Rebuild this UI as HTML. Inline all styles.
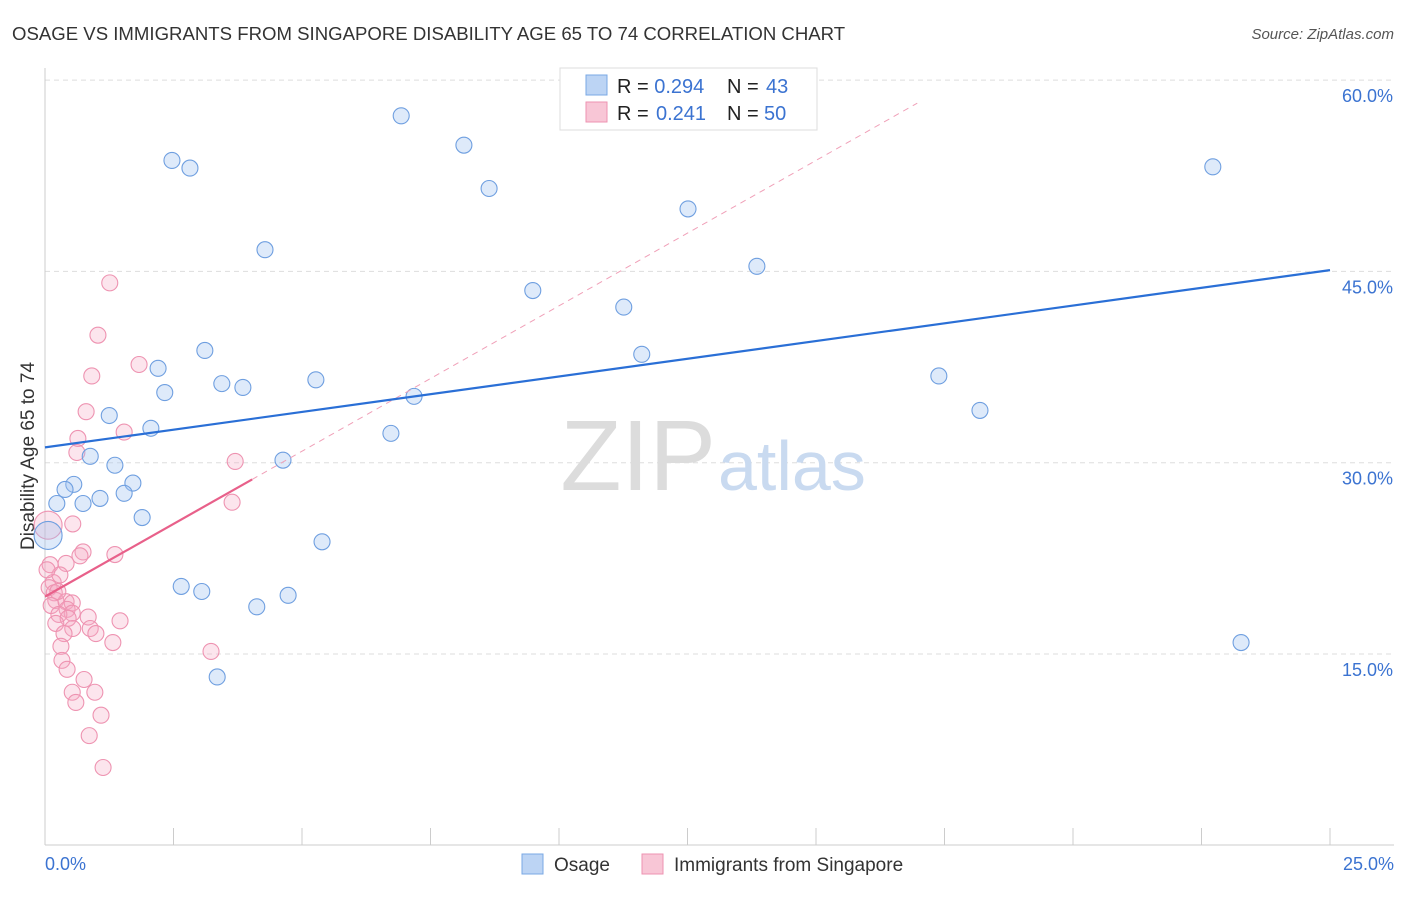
<!DOCTYPE html>
<html><head><meta charset="utf-8">
<style>
body{margin:0;background:#fff;font-family:"Liberation Sans",sans-serif;}
svg text{font-family:"Liberation Sans",sans-serif;}
</style></head>
<body>
<svg id="chart" width="1406" height="892" viewBox="0 0 1406 892">
<text x="12" y="40" font-size="18.6" fill="#333">OSAGE VS IMMIGRANTS FROM SINGAPORE DISABILITY AGE 65 TO 74 CORRELATION CHART</text>
<text x="1394" y="39" font-size="15" fill="#555" font-style="italic" text-anchor="end">Source: ZipAtlas.com</text>
<g id="grid"></g>
<text x="716" y="490" font-size="100" fill="#dcdcdc" text-anchor="end" font-family="Liberation Serif,serif">ZIP</text>
<text x="718" y="490" font-size="70" fill="#c9daf0">atlas</text>
<text x="34" y="456" font-size="19" fill="#333" text-anchor="middle" transform="rotate(-90 34 456)">Disability Age 65 to 74</text>
<g id="marks"></g>
<g>
<rect x="560" y="68" width="257" height="62" fill="#fff" stroke="#ddd"/>
<rect x="586" y="75" width="21" height="20" fill="#bcd4f4" stroke="#7aa8e4"/>
<rect x="586" y="102" width="21" height="20" fill="#f8c6d6" stroke="#ee93b1"/>
<text x="617" y="93" font-size="20" fill="#222">R = <tspan fill="#3b73d1">0.294</tspan><tspan x="727">N = </tspan><tspan x="766" fill="#3b73d1">43</tspan></text>
<text x="617" y="120" font-size="20" fill="#222">R = <tspan x="656" fill="#3b73d1">0.241</tspan><tspan x="727">N = </tspan><tspan x="764" fill="#3b73d1">50</tspan></text>
</g>
<g>
<rect x="522" y="854" width="21" height="20" fill="#bcd4f4" stroke="#7aa8e4"/>
<text x="554" y="871" font-size="19" fill="#333">Osage</text>
<rect x="642" y="854" width="21" height="20" fill="#f8c6d6" stroke="#ee93b1"/>
<text x="674" y="871" font-size="19" fill="#333">Immigrants from Singapore</text>
</g>
</svg>
<script>
const yTicks=[15,30,45,60];
const xTickLabels=["0.0%","25.0%"];
const blueX=[6.93,8.15,2.47,2.82,22.72,8.64,12.51,4.28,13.85,9.49,11.26,3.11,11.61,2.20,17.39,5.27,3.44,3.85,2.33,7.18,18.19,1.25,2.06,6.73,0.88,4.63,1.36,1.71,0.56,0.39,1.54,1.07,0.23,0.74,1.89,0.06,5.39,2.65,3.05,4.73,4.12,23.27,3.35];
const blueY=[57.2,54.9,53.7,53.1,53.2,51.5,49.9,46.7,45.4,43.5,42.2,38.8,38.5,37.4,36.8,36.5,36.2,35.9,35.5,35.2,34.1,33.7,32.7,32.3,30.5,30.2,29.8,28.4,28.3,27.9,27.6,27.2,26.8,26.8,25.7,24.3,23.8,20.3,19.9,19.6,18.7,15.9,13.2];
const pinkX=[1.26,1.03,1.83,0.91,0.80,1.54,0.64,0.62,3.70,3.64,0.54,0.74,1.36,0.68,0.06,0.41,0.10,0.16,0.08,0.18,0.21,0.12,0.41,0.53,0.43,0.53,0.27,0.45,0.84,1.46,0.21,0.54,0.88,0.37,0.99,1.32,0.31,3.23,0.33,0.43,0.76,0.53,0.97,0.60,1.09,0.86,1.13,0.25,0.29,0.04];
const pinkY=[44.1,40.0,37.7,36.8,34.0,32.4,31.9,30.8,30.1,26.9,25.2,23.0,22.8,22.7,25.1,22.1,22.0,20.6,20.2,19.8,19.2,18.8,19.1,19.0,18.5,18.2,18.1,17.8,17.9,17.6,17.4,17.0,17.0,16.6,16.6,15.9,15.6,15.2,14.5,13.8,13.0,12.0,12.0,11.2,10.2,8.6,6.1,19.9,21.2,21.6];
const blueLine=[31.2,45.1]; // y at x=0 and x=25
const pinkLine=[19.5,2.28]; // intercept, slope
const NS="http://www.w3.org/2000/svg";
const X=v=>45+v*1285/25, Y=v=>654-(v-15)*191.3/15;
function el(t,a,p){const e=document.createElementNS(NS,t);for(const k in a)e.setAttribute(k,a[k]);p.appendChild(e);return e;}
const g=document.getElementById('grid'), m=document.getElementById('marks');
yTicks.forEach(t=>{
 const l=el('line',{x1:45,x2:1394,y1:Y(t),y2:Y(t),stroke:'#ddd','stroke-dasharray':'5,4'},g);
 
 
 const tx=el('text',{x:1393,y:Y(t)+22,'font-size':18,fill:'#3b73d1','text-anchor':'end'},g);
 tx.textContent=t.toFixed(1)+'%';
 
 
});
const ax=el('line',{x1:45,x2:1394,y1:845,y2:845,stroke:'#ccc'},g);


const ay=el('line',{x1:45,x2:45,y1:68,y2:845,stroke:'#ccc'},g);


for(let i=0;i<=10;i++){const t=el('line',{x1:X(i*2.5),x2:X(i*2.5),y1:828,y2:845,stroke:'#ccc'},g);
 
 }
[[0,'start',45],[25,'end',1394]].forEach((d,i)=>{const t=el('text',{x:d[2],y:870,'font-size':18,fill:'#3b73d1','text-anchor':d[1]},g);t.textContent=xTickLabels[i];
 
 });
pinkX.forEach((x,i)=>{const c=el('circle',{cx:X(x),cy:Y(pinkY[i]),r:(i==14?14:8),fill:'rgba(244,170,196,0.3)',stroke:'#ee93b1','stroke-width':1.1},m);
 
 });
blueX.forEach((x,i)=>{const c=el('circle',{cx:X(x),cy:Y(blueY[i]),r:(i==35?14:8),fill:'rgba(160,195,240,0.35)',stroke:'#6f9fe0','stroke-width':1.1},m);
 
 });
const pd=el('line',{x1:X(4.03),y1:Y(pinkLine[0]+pinkLine[1]*4.03),x2:X(16.97),y2:Y(pinkLine[0]+pinkLine[1]*16.97),stroke:'#f0a0b8','stroke-width':1,'stroke-dasharray':'6,5'},m);


const ps=el('line',{x1:X(0),y1:Y(pinkLine[0]),x2:X(4.03),y2:Y(pinkLine[0]+pinkLine[1]*4.03),stroke:'#e8608a','stroke-width':2.2},m);


const bl=el('line',{x1:X(0),y1:Y(blueLine[0]),x2:X(25),y2:Y(blueLine[1]),stroke:'#2a6fd6','stroke-width':2.2},m);


</script>
</body></html>
